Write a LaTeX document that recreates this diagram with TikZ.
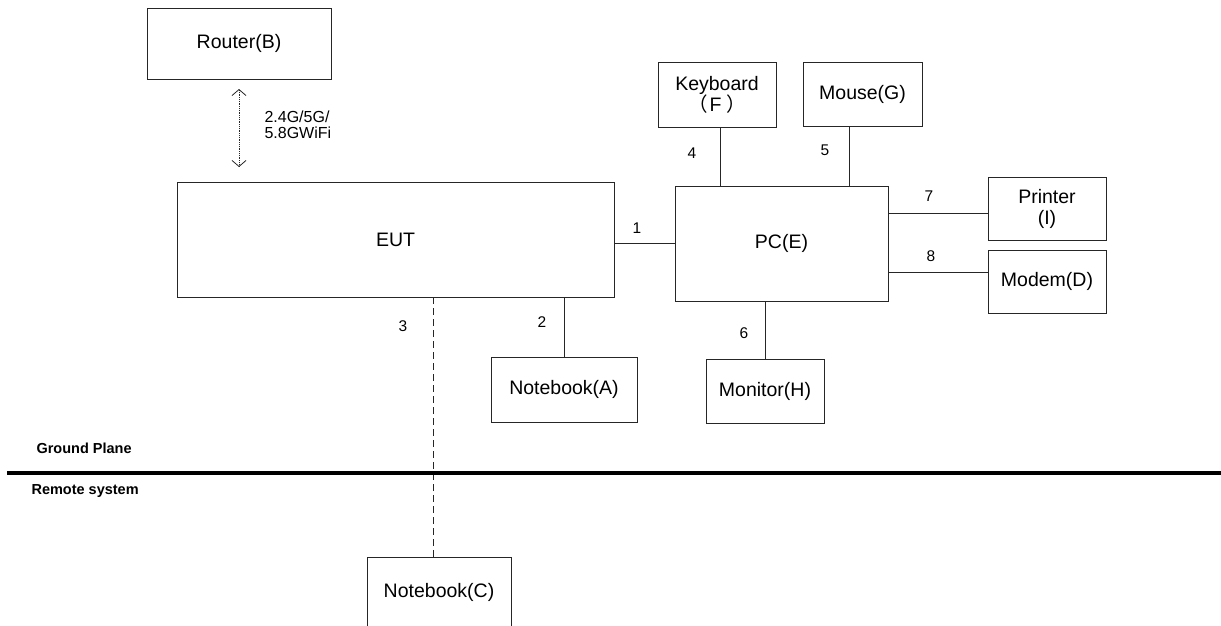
\documentclass[tikz,border=0pt]{standalone}
\usepackage{fontspec}
\setmainfont{Liberation Sans}
\newfontfamily\cjk{Noto Sans CJK SC}
\usepackage{tikz}
\usetikzlibrary{arrows.meta}

\begin{document}
\begin{tikzpicture}[
    x=1pt, y=-1pt,
    box/.style={draw=black!85, line width=0.9pt, rectangle, outer sep=0pt, align=center, inner sep=0pt, font=\fontsize{19.5}{21}\selectfont},
    num/.style={font=\fontsize{15.5}{17}\selectfont},
    plane/.style={anchor=west, font=\bfseries\fontsize{14.5}{16}\selectfont},
    line/.style={draw=black!85, line width=0.9pt},
    wifi/.style={draw=black!85, line width=0.8pt, densely dotted, {Straight Barb[length=6pt,width=14pt]}-{Straight Barb[length=6pt,width=14pt]}}
]
    \useasboundingbox (0,0) rectangle (1221,626);

    % Top: router and EUT
    \node[box, minimum width=184pt, minimum height=71pt] (router) at (239, 43.5) {Router(B)};
    \node[box, minimum width=437pt, minimum height=115pt] (eut) at (395.5, 239.5) {EUT};
    \draw[wifi] ([yshift=-10pt]router.south) -- ([yshift=15pt]router.south |- eut.north);
    \node[anchor=west, align=left, font=\fontsize{16}{16.5}\selectfont] (wifi_lbl) at (261, 125) {2.4G/5G/\\5.8GWiFi};

    % PC and its peripherals
    \node[box, minimum width=213pt, minimum height=115pt] (pc_e) at (781.5, 243.5) {PC(E)};
    \node[box, minimum width=118pt, minimum height=65pt] (kbd_f) at (717, 94.5) {Keyboard\\{\cjk （}\kern2pt F\kern5pt{\cjk ）}};
    \node[box, minimum width=119pt, minimum height=64pt] (mouse_g) at (862.5, 94.5) {Mouse(G)};
    \node[box, minimum width=118pt, minimum height=63pt] (printer_i) at (1047, 208.5) {Printer\\(I)};
    \node[box, minimum width=118pt, minimum height=63pt] (modem_d) at (1047, 281.5) {Modem(D)};
    \node[box, minimum width=118pt, minimum height=64pt] (monitor_h) at (765, 391) {Monitor(H)};
    \node[box, minimum width=146pt, minimum height=65pt] (nb_a) at (564, 389.5) {Notebook(A)};
    \node[box, minimum width=144pt, minimum height=70pt] (nb_c) at (439, 592) {Notebook(C)};

    \draw[line] (pc_e.west) -- (pc_e.west -| eut.east);
    \draw[line] (nb_a.north) -- (nb_a.north |- eut.south);
    \draw[line, dash pattern=on 7pt off 4pt] ([xshift=-6pt]nb_c.north) -- ([xshift=-6pt]nb_c.north |- eut.south);
    \draw[line] ([xshift=3pt]kbd_f.south) -- ([xshift=3pt]kbd_f.south |- pc_e.north);
    \draw[line] ([xshift=-13.5pt]mouse_g.south) -- ([xshift=-13.5pt]mouse_g.south |- pc_e.north);
    \draw[line] (monitor_h.north) -- (monitor_h.north |- pc_e.south);
    \draw[line] ([yshift=-4.5pt]printer_i.west) -- ([yshift=-4.5pt]printer_i.west -| pc_e.east);
    \draw[line] ([yshift=9.5pt]modem_d.west) -- ([yshift=9.5pt]modem_d.west -| pc_e.east);

    \node[num] (n1) at (637, 228) {1};
    \node[num] (n2) at (542, 322) {2};
    \node[num] (n3) at (403, 326) {3};
    \node[num] (n4) at (692, 153) {4};
    \node[num] (n5) at (825, 150) {5};
    \node[num] (n6) at (744, 333) {6};
    \node[num] (n7) at (929, 196) {7};
    \node[num] (n8) at (931, 256) {8};

    % Ground plane
    \coordinate (gnd_l) at (7, 473);
    \coordinate (gnd_r) at (1221, 473);
    \draw[line width=3.6pt] (gnd_l) -- (gnd_r);
    \node[plane] (gnd_lbl) at (33, 448) {Ground Plane};
    \node[plane] (remote_lbl) at (28, 491) {Remote system};

\end{tikzpicture}
\end{document}
